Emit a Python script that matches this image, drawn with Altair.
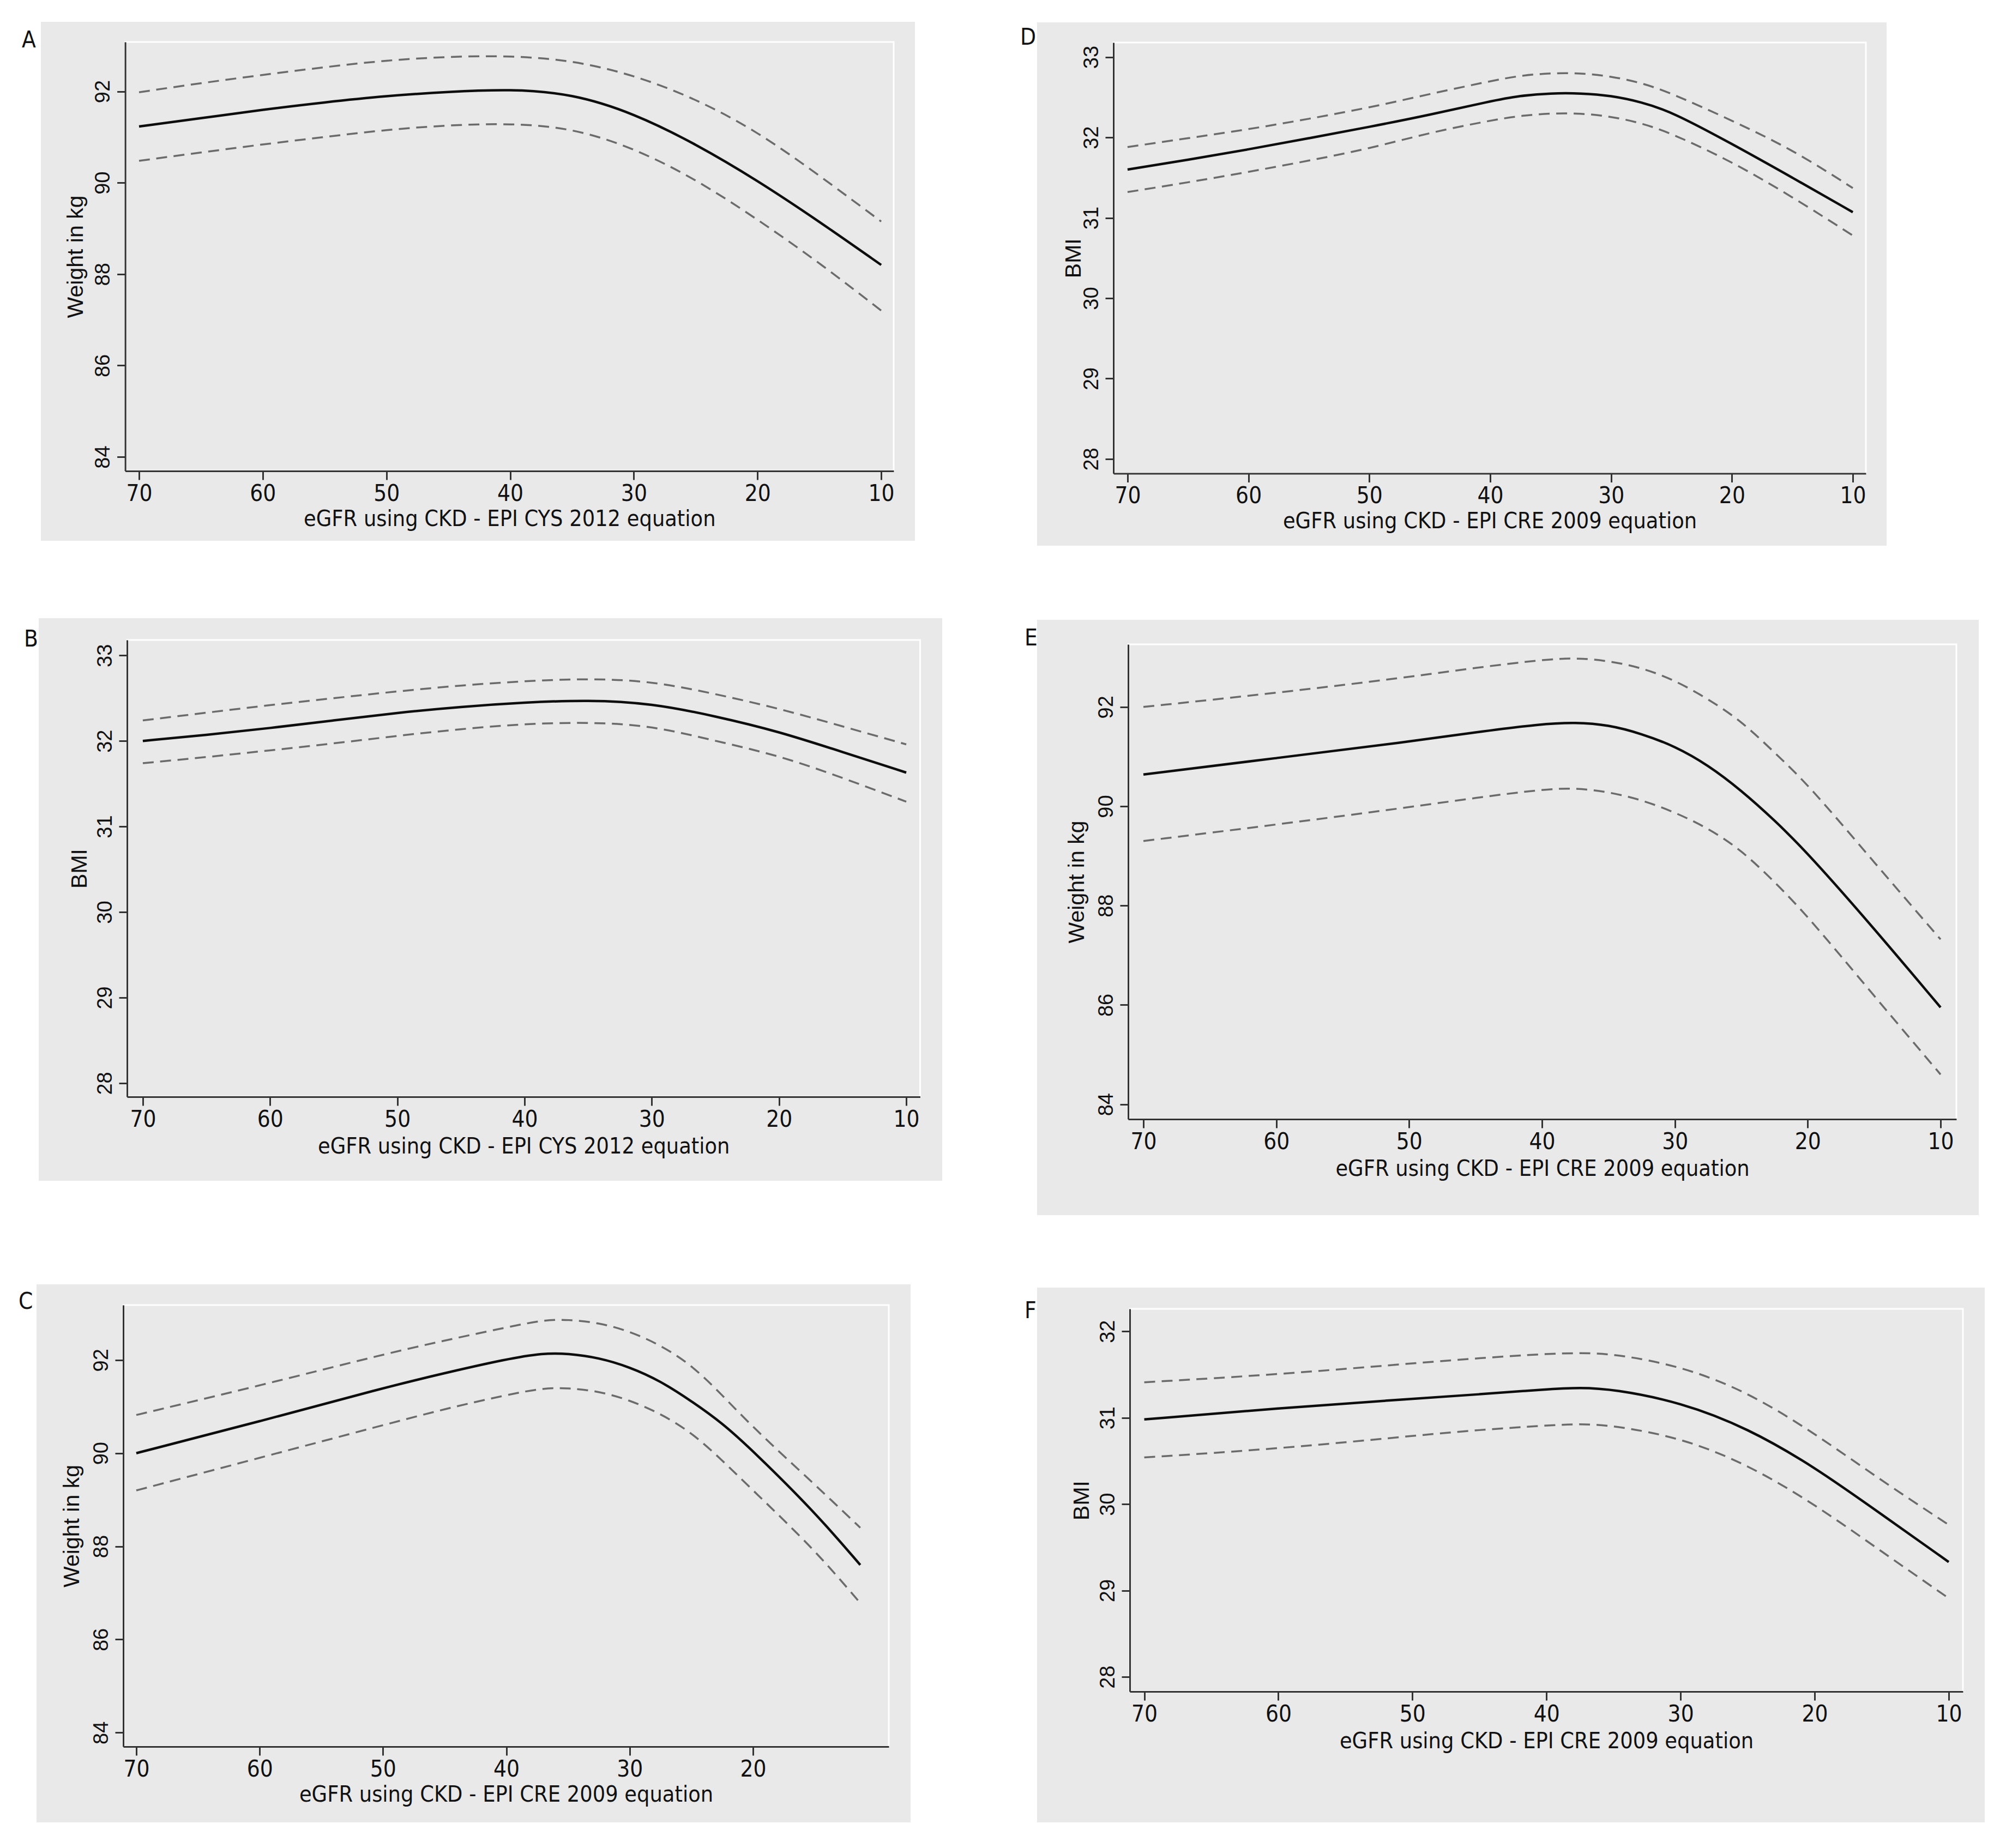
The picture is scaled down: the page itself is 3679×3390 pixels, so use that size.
import altair as alt
import pandas as pd

# ------------------------------------------------------------------ data
CYS_TITLE = "eGFR using CKD - EPI CYS 2012 equation"
CRE_TITLE = "eGFR using CKD - EPI CRE 2009 equation"
WEIGHT_TITLE = "Weight in kg"
BMI_TITLE = "BMI"

X_TICKS_FULL = [70, 60, 50, 40, 30, 20, 10]
X_TICKS_C = [70, 60, 50, 40, 30, 20]
Y_TICKS_WEIGHT = [84, 86, 88, 90, 92]
Y_TICKS_BMI_B = [28, 29, 30, 31, 32, 33]
Y_TICKS_BMI_F = [28, 29, 30, 31, 32]

# Panel A: weight vs eGFR CYS 2012
A_egfr = [70, 65, 60, 55, 50, 45, 40, 35, 30, 25, 20, 15, 10]
A_fit = [91.23, 91.41, 91.60, 91.76, 91.90, 91.99, 92.05, 91.95, 91.52, 90.85, 90.05, 89.15, 88.20]
A_upper = [91.98, 92.18, 92.36, 92.53, 92.68, 92.76, 92.78, 92.68, 92.36, 91.84, 91.12, 90.16, 89.15]
A_lower = [90.48, 90.66, 90.84, 91.00, 91.16, 91.26, 91.30, 91.20, 90.76, 90.08, 89.20, 88.25, 87.20]

# Panel B: BMI vs eGFR CYS 2012
B_egfr = [70, 65, 60, 55, 50, 45, 40, 35, 30, 25, 20, 15, 10]
B_fit = [32.00, 32.07, 32.15, 32.24, 32.33, 32.40, 32.45, 32.48, 32.44, 32.29, 32.11, 31.87, 31.63]
B_upper = [32.24, 32.33, 32.42, 32.50, 32.58, 32.65, 32.70, 32.73, 32.70, 32.55, 32.38, 32.17, 31.96]
B_lower = [31.74, 31.81, 31.89, 31.97, 32.06, 32.14, 32.20, 32.22, 32.18, 32.00, 31.83, 31.57, 31.29]

# Panel C: weight vs eGFR CRE 2009
C_egfr = [70, 60, 50, 45, 40, 37, 35, 32.5, 30, 27.5, 25, 22.5, 20, 15, 11.3]
C_fit = [90.00, 90.68, 91.40, 91.72, 92.02, 92.15, 92.14, 92.05, 91.85, 91.55, 91.12, 90.65, 90.05, 88.74, 87.60]
C_upper = [90.82, 91.45, 92.12, 92.42, 92.70, 92.86, 92.87, 92.80, 92.62, 92.32, 91.90, 91.25, 90.55, 89.33, 88.40]
C_lower = [89.20, 89.90, 90.60, 90.95, 91.25, 91.40, 91.40, 91.33, 91.14, 90.85, 90.45, 89.85, 89.20, 87.93, 86.78]

# Panel D: BMI vs eGFR CRE 2009
D_egfr = [70, 65, 60, 55, 50, 45, 40, 37.5, 35, 32.5, 30, 27.5, 25, 20, 15, 10]
D_fit = [31.60, 31.72, 31.85, 31.99, 32.13, 32.28, 32.45, 32.52, 32.55, 32.55, 32.52, 32.44, 32.32, 31.92, 31.50, 31.07]
D_upper = [31.88, 31.99, 32.10, 32.23, 32.37, 32.54, 32.70, 32.77, 32.80, 32.80, 32.76, 32.68, 32.55, 32.21, 31.85, 31.37]
D_lower = [31.32, 31.44, 31.57, 31.71, 31.86, 32.06, 32.21, 32.27, 32.30, 32.30, 32.26, 32.18, 32.05, 31.70, 31.26, 30.78]

# Panel E: weight vs eGFR CRE 2009
E_egfr = [70, 60, 50, 45, 40, 37.5, 35, 32.5, 30, 27.5, 25, 22.5, 20, 15, 10]
E_fit = [90.64, 90.97, 91.30, 91.49, 91.66, 91.69, 91.64, 91.46, 91.21, 90.83, 90.32, 89.72, 89.06, 87.54, 85.95]
E_upper = [92.00, 92.28, 92.60, 92.79, 92.95, 92.99, 92.93, 92.79, 92.54, 92.16, 91.72, 91.08, 90.45, 88.87, 87.32]
E_lower = [89.30, 89.63, 89.98, 90.17, 90.34, 90.37, 90.29, 90.13, 89.88, 89.56, 89.12, 88.48, 87.79, 86.18, 84.60]

# Panel F: BMI vs eGFR CRE 2009
F_egfr = [70, 60, 50, 45, 40, 37.5, 35, 30, 25, 20, 15, 10]
F_fit = [30.98, 31.11, 31.22, 31.27, 31.33, 31.35, 31.33, 31.18, 30.88, 30.43, 29.88, 29.33]
F_upper = [31.41, 31.50, 31.63, 31.69, 31.74, 31.75, 31.74, 31.60, 31.30, 30.82, 30.27, 29.76]
F_lower = [30.54, 30.64, 30.79, 30.86, 30.91, 30.93, 30.91, 30.77, 30.46, 30.00, 29.45, 28.91]

# ------------------------------------------------------------------ layout / style
OFF = 8                  # page margin
W, H = 3662, 3372        # whole canvas
NARROW = "Liberation Sans Narrow, DejaVu Sans Condensed, Arial Narrow, sans-serif"
SANS = "Liberation Sans, Arial, Helvetica, sans-serif"
BG = "#e9e9e9"
INK = "#333333"

panels = [
    dict(key="A", egfr=A_egfr, fit=A_fit, up=A_upper, lo=A_lower,
         xtitle=CYS_TITLE, ytitle=WEIGHT_TITLE, xticks=X_TICKS_FULL, yticks=Y_TICKS_WEIGHT,
         plot=(229.6, 77, 1639, 864), xdom=(71.12, 8.99), ydom=(83.69, 93.08),
         bg=(75, 40, 1678, 992), letter=(40, 87), ytx=-78, xty=100),
    dict(key="B", egfr=B_egfr, fit=B_fit, up=B_upper, lo=B_lower,
         xtitle=CYS_TITLE, ytitle=BMI_TITLE, xticks=X_TICKS_FULL, yticks=Y_TICKS_BMI_B,
         plot=(233, 1174, 1687.5, 2012), xdom=(71.24, 8.91), ydom=(27.84, 33.18),
         bg=(71, 1134, 1728, 2166), letter=(44, 1186), ytx=-75, xty=103),
    dict(key="C", egfr=C_egfr, fit=C_fit, up=C_upper, lo=C_lower,
         xtitle=CRE_TITLE, ytitle=WEIGHT_TITLE, xticks=X_TICKS_C, yticks=Y_TICKS_WEIGHT,
         plot=(226, 2394, 1630, 3204), xdom=(71.06, 8.99), ydom=(83.70, 93.18),
         bg=(67, 2356, 1670, 3343), letter=(34, 2401), ytx=-82, xty=100),
    dict(key="D", egfr=D_egfr, fit=D_fit, up=D_upper, lo=D_lower,
         xtitle=CRE_TITLE, ytitle=BMI_TITLE, xticks=X_TICKS_FULL, yticks=Y_TICKS_BMI_B,
         plot=(2042, 78, 3422, 868.5), xdom=(71.17, 8.92), ydom=(27.82, 33.18),
         bg=(1902, 41, 3460, 1001), letter=(1871, 82), ytx=-61, xty=100),
    dict(key="E", egfr=E_egfr, fit=E_fit, up=E_upper, lo=E_lower,
         xtitle=CRE_TITLE, ytitle=WEIGHT_TITLE, xticks=X_TICKS_FULL, yticks=Y_TICKS_WEIGHT,
         plot=(2069, 1182, 3588, 2053), xdom=(71.15, 8.81), ydom=(83.70, 93.26),
         bg=(1902, 1137, 3629, 2229), letter=(1879, 1184), ytx=-82, xty=103),
    dict(key="F", egfr=F_egfr, fit=F_fit, up=F_upper, lo=F_lower,
         xtitle=CRE_TITLE, ytitle=BMI_TITLE, xticks=X_TICKS_FULL, yticks=Y_TICKS_BMI_F,
         plot=(2072, 2401, 3600, 3103), xdom=(71.08, 8.94), ydom=(27.83, 32.26),
         bg=(1902, 2362, 3640, 3343), letter=(1879, 2418), ytx=-76, xty=103),
]

one = pd.DataFrame({"k": [0]})
bg_layers, border_layers, panel_layers, letter_layers = [], [], [], []

for p in panels:
    x0, yt, x1, yb = [v - OFF for v in p["plot"]]
    bx0, by0, bx1, by1 = [v - OFF for v in p["bg"]]
    lx, ly = [v - OFF for v in p["letter"]]

    bg_layers.append(
        alt.Chart(one).mark_rect(color=BG).encode(
            x=alt.value(bx0), x2=alt.value(bx1), y=alt.value(by0), y2=alt.value(by1))
    )
    border_layers.append(
        alt.Chart(one).mark_rect(fillOpacity=0, stroke="white", strokeWidth=3).encode(
            x=alt.value(x0), x2=alt.value(x1), y=alt.value(yt), y2=alt.value(yb))
    )

    rows = []
    for name, vals in (("fit", p["fit"]), ("upper", p["up"]), ("lower", p["lo"])):
        for e, v in zip(p["egfr"], vals):
            rows.append({"egfr": e, "value": v, "series": name})
    df = pd.DataFrame(rows)

    xenc = alt.X(
        "egfr:Q",
        scale=alt.Scale(domain=list(p["xdom"]), range=[x0, x1], zero=False, nice=False),
        axis=alt.Axis(
            orient="bottom", offset=yb - H, values=p["xticks"], title=p["xtitle"],
            titleY=p["xty"], titleBaseline="alphabetic", titleFont=NARROW, titleFontSize=41,
            titleFontWeight="normal", titleColor="#111111",
            labelFont=NARROW, labelFontSize=42, labelColor="#111111", labelPadding=5,
            labelFlush=False, tickSize=16, tickWidth=3, tickColor=INK,
            domainColor=INK, domainWidth=3, grid=False, zindex=1,
        ),
    )
    yenc = alt.Y(
        "value:Q",
        scale=alt.Scale(domain=list(p["ydom"]), range=[yb, yt], zero=False, nice=False),
        axis=alt.Axis(
            orient="left", offset=-x0, values=p["yticks"], title=p["ytitle"],
            titleX=p["ytx"], titleAngle=270, titleBaseline="alphabetic", titleAlign="center",
            titleFont=SANS, titleFontSize=41, titleFontWeight="normal", titleColor="#111111",
            labelFont=SANS, labelFontSize=38, labelColor="#111111", labelAngle=270,
            labelAlign="center", labelBaseline="alphabetic", labelPadding=14,
            labelFlush=False, tickSize=15, tickWidth=3, tickColor=INK,
            domainColor=INK, domainWidth=3, grid=False, zindex=1,
        ),
    )
    base = alt.Chart(df).encode(x=xenc, y=yenc)
    solid = base.transform_filter(alt.datum.series == "fit").mark_line(
        interpolate="basis", color="#0d0d0d", strokeWidth=4.5)
    dashed = base.transform_filter(alt.datum.series != "fit").mark_line(
        interpolate="basis", color="#6b6b6b", strokeWidth=3.5, strokeDash=[20, 12]
    ).encode(detail="series:N")
    panel_layers.append(alt.layer(solid, dashed))

    letter_layers.append(
        alt.Chart(one).mark_text(text=p["key"], font=NARROW, fontSize=42, align="left",
                                 baseline="alphabetic", color="#111111").encode(
            x=alt.value(lx), y=alt.value(ly))
    )

chart = alt.layer(*bg_layers, *border_layers, *panel_layers, *letter_layers).resolve_scale(
    x="independent", y="independent"
).properties(
    width=W, height=H, padding=0, background="white",
    autosize=alt.AutoSizeParams(type="none"),
).configure_view(stroke=None)

chart.save("out.html", embed_options={"renderer": "svg", "actions": False})
